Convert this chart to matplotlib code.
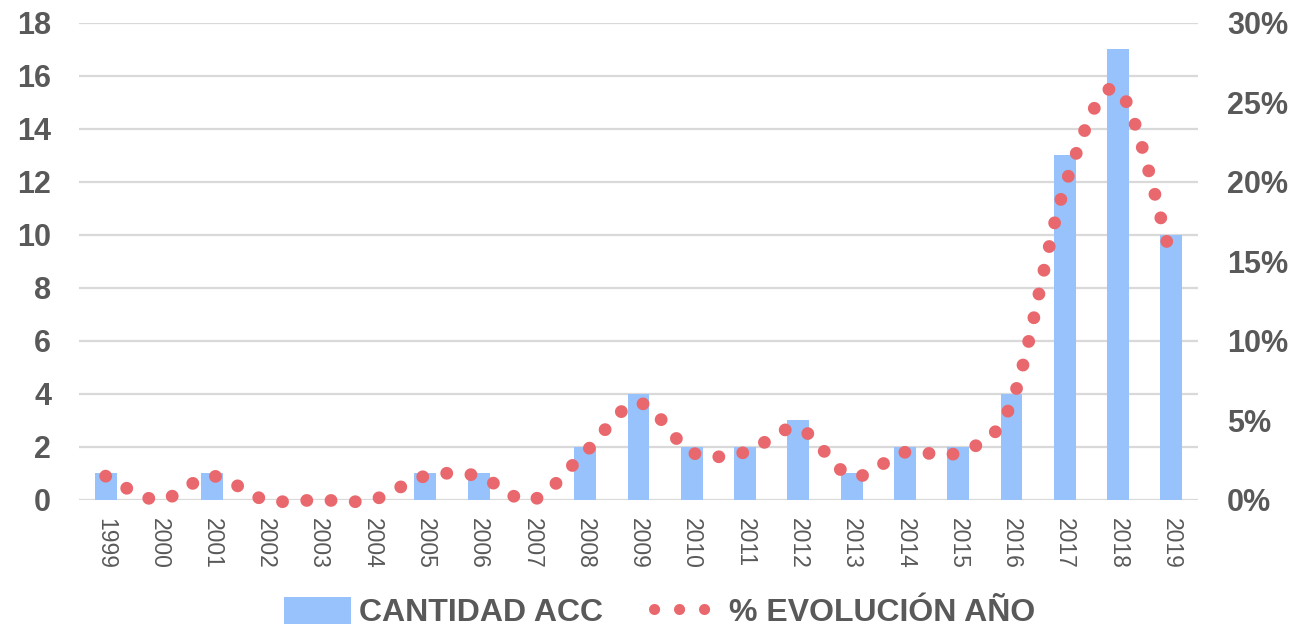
import numpy as np
import matplotlib
matplotlib.use('Agg')
import matplotlib.pyplot as plt
from matplotlib.path import Path
from matplotlib.patches import PathPatch, Patch
from matplotlib.lines import Line2D
from matplotlib.ticker import FuncFormatter

plt.rcParams['font.family'] = ['Liberation Sans', 'DejaVu Sans']

years = ['1999', '2000', '2001', '2002', '2003', '2004', '2005', '2006', '2007', '2008',
         '2009', '2010', '2011', '2012', '2013', '2014', '2015', '2016', '2017', '2018', '2019']
cantidad = [1, 0, 1, 0, 0, 0, 1, 1, 0, 2, 4, 2, 2, 3, 1, 2, 2, 4, 13, 17, 10]
evolucion = [1.5, 0.0, 1.5, 0.0, 0.0, 0.0, 1.5, 1.5, 0.0, 3.0, 6.1,
             3.0, 3.0, 4.5, 1.5, 3.0, 3.0, 6.1, 19.7, 25.8, 15.2]

bar_color = '#97C2FC'
dot_color = '#E9686E'
text_color = '#595959'
grid_color = '#D9D9D9'


def smooth_path(x, y):
    """Excel-like smoothed line: Catmull-Rom turned into cubic Bezier segments"""
    pts = np.column_stack([x, y]).astype(float)
    n = len(pts)
    verts = [pts[0]]
    codes = [Path.MOVETO]
    for i in range(n - 1):
        p0 = pts[i - 1] if i > 0 else pts[i]
        p1 = pts[i]
        p2 = pts[i + 1]
        p3 = pts[i + 2] if i + 2 < n else pts[i + 1]
        verts += [p1 + (p2 - p0) / 6, p2 - (p3 - p1) / 6, p2]
        codes += [Path.CURVE4] * 3
    return Path(verts, codes)


fig = plt.figure(figsize=(13.12, 6.26), dpi=100)
ax = fig.add_axes([0.0602, 0.2013, 0.8529, 0.7620])
ax2 = ax.twinx()

xpos = np.arange(len(years))
ax.bar(xpos, cantidad, width=0.41, color=bar_color, zorder=2)

ax.set_xlim(-0.5, len(years) - 0.5)
ax.set_ylim(0, 18)
ax.set_yticks(range(0, 19, 2))
ax.yaxis.grid(True, color=grid_color, linewidth=1.6, zorder=0)
ax.set_axisbelow(True)
ax.set_xticks(xpos)
ax.set_xticklabels(years, rotation=270, fontsize=16.5, color=text_color)
ax.tick_params(axis='x', length=0, pad=13)
ax.tick_params(axis='y', length=0, pad=20, labelsize=22, labelcolor=text_color)
for lbl in ax.get_yticklabels():
    lbl.set_fontweight('bold')

ax2.set_ylim(0, 30)
ax2.set_yticks(range(0, 31, 5))
ax2.yaxis.set_major_formatter(FuncFormatter(lambda v, p: '%d%%' % v))
ax2.tick_params(axis='y', length=0, pad=21, labelsize=22, labelcolor=text_color)
for lbl in ax2.get_yticklabels():
    lbl.set_fontweight('bold')

for a in (ax, ax2):
    for s in a.spines.values():
        s.set_visible(False)

# smoothed line drawn as round dots, like the Excel "round dot" dash
curve = PathPatch(smooth_path(xpos, evolucion), fill=False, edgecolor=dot_color,
                  linewidth=9.2, linestyle=(0, (0.01, 1.89)), capstyle='round',
                  clip_on=False, zorder=3)
ax2.add_patch(curve)

handles = [Patch(facecolor=bar_color, edgecolor='none'),
           Line2D([], [], color=dot_color, linewidth=8, linestyle=(0, (0.01, 2.24)),
                  dash_capstyle='round')]
leg = fig.legend(handles, ['CANTIDAD ACC', '% EVOLUCIÓN AÑO'], ncol=2, loc='center',
                 bbox_to_anchor=(0.503, 0.021), frameon=False,
                 prop={'size': 23, 'weight': 'bold'}, handlelength=2.1,
                 handleheight=0.9, handletextpad=0.25, columnspacing=1.6)
for t in leg.get_texts():
    t.set_color(text_color)

fig.savefig('out.png', dpi=100)
